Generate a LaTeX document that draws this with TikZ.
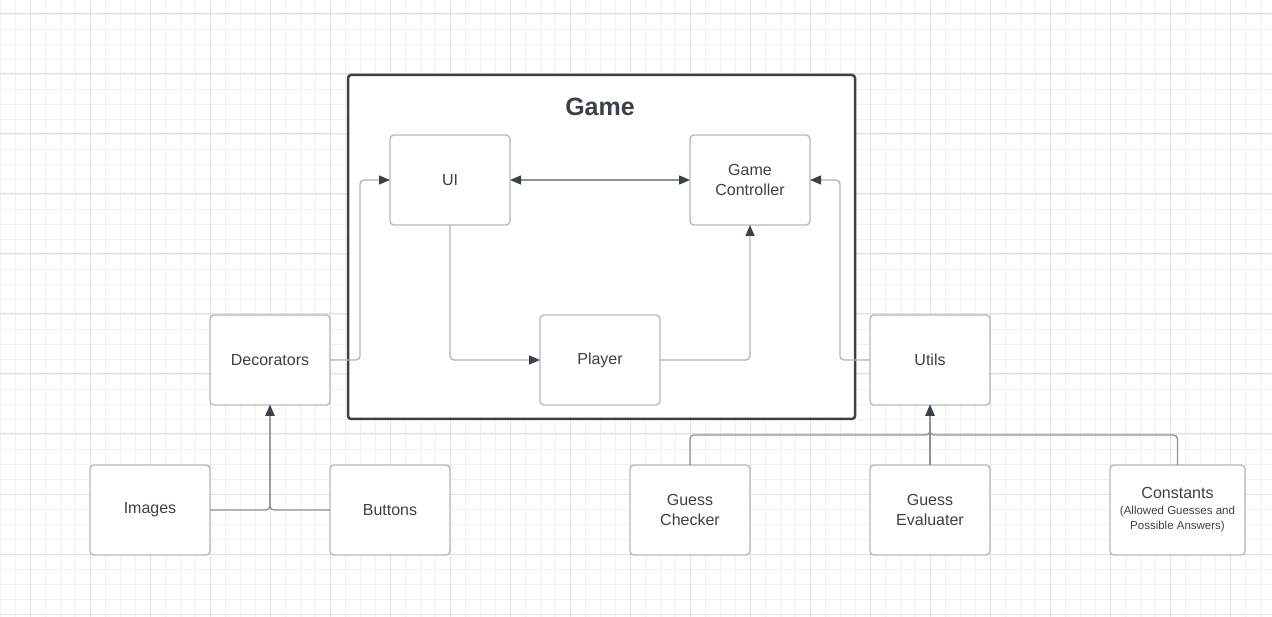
\documentclass[tikz,border=0pt]{standalone}
\usepackage{fontspec}
\setmainfont{Liberation Sans}
\usepackage{xcolor}
\usepackage{tikz}
\usetikzlibrary{positioning, arrows.meta}
\definecolor{ink}{HTML}{3A414A}
\definecolor{edgegray}{HTML}{B4B7BB}
\definecolor{wirelight}{HTML}{B0B3B8}
\definecolor{wiredark}{HTML}{8E9297}
\definecolor{gridminor}{HTML}{F1F1F1}
\definecolor{gridmajor}{HTML}{E1E1E1}

\begin{document}
\begin{tikzpicture}[
x=1pt, y=-1pt,
every node/.style={align=center, text=ink, font=\fontsize{16}{20}\selectfont},
boxstyle/.style={draw=edgegray, fill=white, line width=1.3pt, rounded corners=4pt, minimum width=120pt, minimum height=90pt, inner sep=2pt, outer sep=0pt},
frame/.style={draw=ink, fill=white, line width=2.5pt, rounded corners=3pt, minimum width=507pt, minimum height=344pt},
tip/.style={-{Triangle[length=11pt, width=9pt, color=ink]}},
wire/.style={draw=wirelight, line width=1.3pt, rounded corners=4pt},
wiredk/.style={draw=wiredark, line width=1.3pt, rounded corners=4pt}
]
\useasboundingbox (0,0) rectangle (1272,617);
% grid paper
\foreach \x in {0,15,...,1272} \draw[gridminor, line width=0.9pt] (\x,0) -- (\x,617);
\foreach \y in {-1,14,...,617} \draw[gridminor, line width=0.9pt] (0,\y) -- (1272,\y);
\foreach \x in {30,90,...,1272} \draw[gridmajor, line width=1pt] (\x,0) -- (\x,617);
\foreach \y in {14,74,...,617} \draw[gridmajor, line width=1pt] (0,\y) -- (1272,\y);
% Game frame
\node[frame] (game) at (601.5,247) {};
\node[font=\fontsize{25}{30}\selectfont\bfseries] (gametitle) at (600,107) {Game};
% inside the game
\node[boxstyle] (ui) at (450,180) {UI};
\node[boxstyle, right=180pt of ui] (gc) {Game\\Controller};
\node[boxstyle] (player) at (600,360) {Player};
\node[boxstyle, left=210pt of player] (deco) {Decorators};
\node[boxstyle, right=210pt of player] (utils) {Utils};
% helpers
\node[boxstyle] (images) at (150,510) {Images};
\node[boxstyle] (buttons) at (390,510) {Buttons};
\node[boxstyle] (checker) at (690,510) {Guess\\Checker};
\node[boxstyle, below=60pt of utils] (evaluater) {Guess\\Evaluater};
\node[boxstyle, minimum width=135pt] (constants) at (1177.5,510) {Constants\\[-4pt]{\fontsize{11.5}{15}\selectfont (Allowed Guesses and}\\[-5pt]{\fontsize{11.5}{15}\selectfont Possible Answers)}};
% connectors
\draw[wiredk, {Triangle[length=11pt, width=9pt, color=ink]}-{Triangle[length=11pt, width=9pt, color=ink]}] (ui) -- (gc);
\draw[wire, tip] (ui.south) |- (player.west);
\draw[wire, tip] (player.east) -| (gc.south);
\draw[wire, tip] (deco.east) -- ++(30,0) |- (ui.west);
\draw[wire, tip] (utils.west) -- ++(-30,0) |- (gc.east);
\draw[wiredk, tip] (images.east) -| (deco.south);
\draw[wiredk, tip] (buttons.west) -| (deco.south);
\draw[wiredk, tip] (checker.north) -- ++(0,-30) -| (utils.south);
\draw[wiredk, tip] (evaluater.north) -- (utils.south);
\draw[wiredk, tip] (constants.north) -- ++(0,-30) -| (utils.south);
\end{tikzpicture}
\end{document}
